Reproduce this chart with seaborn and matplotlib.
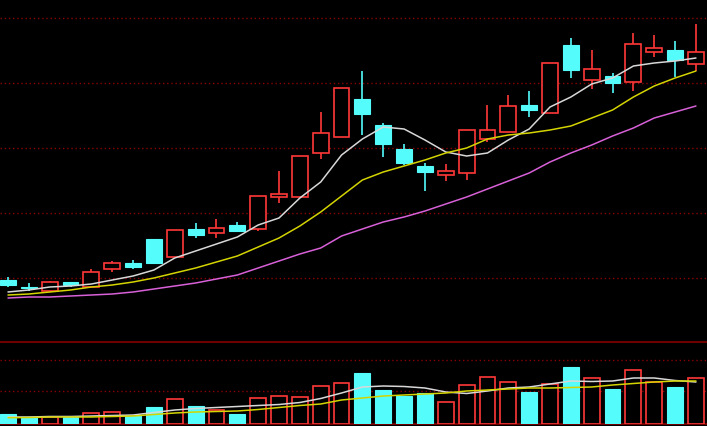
import numpy as np
import pandas as pd
import matplotlib
matplotlib.use("Agg")
import matplotlib.pyplot as plt
import seaborn as sns

# ---------------- data ----------------
opens  = [11.94, 11.72, 11.60, 11.88, 11.72, 12.28, 12.46, 13.20, 12.65, 13.51,
          13.38, 13.63, 13.51, 14.49, 14.49, 15.85, 16.34, 17.51, 16.71, 15.97,
          15.45, 15.17, 15.23, 16.28, 16.49, 17.32, 17.08, 19.17, 18.09, 18.22,
          18.03, 18.95, 19.02, 18.58]
closes = [11.78, 11.69, 11.88, 11.78, 12.18, 12.46, 12.34, 12.46, 13.48, 13.32,
          13.54, 13.45, 14.52, 14.58, 15.75, 16.46, 17.85, 17.05, 16.12, 15.54,
          15.26, 15.29, 16.55, 16.55, 17.29, 17.17, 18.62, 18.40, 18.43, 18.00,
          19.20, 19.08, 18.71, 18.95]
highs  = [12.03, 11.85, 11.91, 11.88, 12.28, 12.52, 12.55, 13.20, 13.48, 13.69,
          13.82, 13.72, 14.52, 15.29, 15.75, 17.11, 17.85, 18.37, 16.77, 16.12,
          15.54, 15.51, 16.55, 17.32, 17.63, 17.75, 18.62, 19.38, 19.02, 18.31,
          19.54, 19.48, 19.29, 19.82]
lows   = [11.72, 11.60, 11.57, 11.72, 11.72, 12.18, 12.28, 12.43, 12.65, 13.23,
          13.23, 13.42, 13.45, 14.31, 14.49, 15.66, 16.34, 16.40, 15.72, 15.48,
          14.68, 14.98, 15.02, 16.18, 16.49, 16.95, 17.08, 18.15, 17.82, 17.69,
          17.75, 18.80, 18.18, 18.37]

ma5_px  = [292, 290, 287, 286, 284, 280, 276, 270, 258, 251, 244, 237, 225, 218,
           198, 182, 155, 139, 127, 129, 140, 152, 156, 153, 140, 129, 107, 97,
           84, 78, 66, 63, 61, 58]
ma10_px = [295, 294, 292, 290, 287, 285, 282, 278, 273, 268, 262, 256, 247, 238,
           226, 212, 196, 180, 172, 166, 160, 153, 148, 139, 135, 133, 130, 126,
           118, 110, 97, 86, 78, 71]
ma20_px = [298, 297, 297, 296, 295, 294, 292, 289, 286, 283, 279, 275, 268, 261,
           254, 248, 236, 229, 222, 217, 211, 204, 197, 189, 181, 173, 162, 153,
           145, 136, 128, 118, 112, 106]

volumes = [1000, 700, 700, 700, 1070, 1170, 800, 1700, 2470, 1800, 1370, 1000,
           2570, 2770, 2670, 3770, 4070, 5100, 3370, 2770, 3100, 2230, 3870, 4730,
           4200, 3200, 3970, 5700, 4570, 3530, 5430, 4230, 3700, 4630]
vol_ma5  = [700, 700, 750, 750, 800, 850, 900, 1150, 1400, 1550, 1650, 1750, 1850,
            1950, 2150, 2550, 3100, 3700, 3800, 3750, 3600, 3200, 3050, 3300, 3600,
            3700, 4000, 4300, 4250, 4300, 4600, 4600, 4350, 4200]
vol_ma10 = [630, 650, 700, 700, 700, 750, 800, 950, 1100, 1200, 1250, 1300, 1450,
            1650, 1850, 2000, 2400, 2600, 2800, 2900, 3000, 3100, 3300, 3400, 3500,
            3600, 3600, 3650, 3700, 3900, 4050, 4200, 4300, 4300]

price_grid = [12, 14, 16, 18, 20]
vol_grid = [3270, 6370]

# moving averages read as pixel heights -> price units
def px_to_price(v):
    return 10 + (343 - np.asarray(v, dtype=float)) / 32.5

ma5 = px_to_price(ma5_px)
ma10 = px_to_price(ma10_px)
ma20 = px_to_price(ma20_px)

n = len(opens)
idx = np.arange(n)
df = pd.DataFrame({"i": idx, "open": opens, "close": closes, "high": highs,
                   "low": lows, "ma5": ma5, "ma10": ma10, "ma20": ma20,
                   "vol": volumes, "vma5": vol_ma5, "vma10": vol_ma10})
df["up"] = df["close"] >= df["open"]

# ---------------- style ----------------
sns.set_theme(style="dark")
plt.rcParams["font.family"] = ["DejaVu Sans"]

RED = "#ff3838"
CYAN = "#54fcfc"
WHITE = "#d8d8d8"
YELLOW = "#d4d400"
MAGENTA = "#d860d8"
GRID = "#8a0000"
SEP = "#6e0000"
BG = "#000000"

fig = plt.figure(figsize=(7.07, 4.26), dpi=100, facecolor=BG)
H = 426.0
ax1 = fig.add_axes([0, 1 - 342 / H, 1, 342 / H], facecolor=BG)
ax2 = fig.add_axes([0, 2 / H, 1, 340 / H - 258 / H], facecolor=BG)
# ax2 spans from y=342 to y=424 px
ax2.set_position([0, 2 / H, 1, 82 / H])

xlim = (-0.384, 33.53)
w = 0.76

# ---------------- price panel ----------------
for yv in price_grid:
    ax1.axhline(yv, color=GRID, lw=1.0, ls=(0, (1, 2)), zorder=0)

up = df[df["up"]]
dn = df[~df["up"]]
body_lo = np.minimum(df["open"], df["close"])
body_hi = np.maximum(df["open"], df["close"])

# wicks
ax1.vlines(up["i"], np.maximum(up["close"], up["open"]), up["high"], color=RED, lw=1.2, zorder=2)
ax1.vlines(up["i"], up["low"], np.minimum(up["close"], up["open"]), color=RED, lw=1.2, zorder=2)
ax1.vlines(dn["i"], dn["low"], dn["high"], color=CYAN, lw=1.2, zorder=2)

# bodies
ax1.bar(up["i"], np.maximum(up["close"] - up["open"], 0.03), bottom=up["open"],
        width=w, facecolor=BG, edgecolor=RED, lw=1.2, zorder=3)
ax1.bar(dn["i"], np.maximum(dn["open"] - dn["close"], 0.03), bottom=dn["close"],
        width=w, facecolor=CYAN, edgecolor=CYAN, lw=0.8, zorder=3)

sns.lineplot(data=df, x="i", y="ma5", ax=ax1, color=WHITE, lw=1.1, zorder=4)
sns.lineplot(data=df, x="i", y="ma10", ax=ax1, color=YELLOW, lw=1.1, zorder=4)
sns.lineplot(data=df, x="i", y="ma20", ax=ax1, color=MAGENTA, lw=1.1, zorder=4)

ax1.set_xlim(*xlim)
ax1.set_ylim(10 + (343 - 342) / 32.5, 10 + 343 / 32.5)

# ---------------- volume panel ----------------
for yv in vol_grid:
    ax2.axhline(yv, color=GRID, lw=1.0, ls=(0, (1, 2)), zorder=0)

ax2.bar(up["i"], up["vol"], width=w, facecolor=BG, edgecolor=RED, lw=1.2, zorder=3)
ax2.bar(dn["i"], dn["vol"], width=w, facecolor=CYAN, edgecolor=CYAN, lw=0.8, zorder=3)
sns.lineplot(data=df, x="i", y="vma5", ax=ax2, color=WHITE, lw=1.1, zorder=4)
sns.lineplot(data=df, x="i", y="vma10", ax=ax2, color=YELLOW, lw=1.1, zorder=4)
ax2.set_xlim(*xlim)
ax2.set_ylim(0, 8200)

for ax in (ax1, ax2):
    ax.set_xlabel("")
    ax.set_ylabel("")
    ax.grid(False)
    ax.tick_params(left=False, bottom=False, labelleft=False, labelbottom=False)
    for s in ax.spines.values():
        s.set_visible(False)

ax2.spines["top"].set_visible(True)
ax2.spines["top"].set_color(SEP)
ax2.spines["top"].set_linewidth(1.5)
ax2.spines["bottom"].set_visible(True)
ax2.spines["bottom"].set_color(SEP)
ax2.spines["bottom"].set_linewidth(1.5)

fig.savefig("out.png", dpi=100, facecolor=BG)
